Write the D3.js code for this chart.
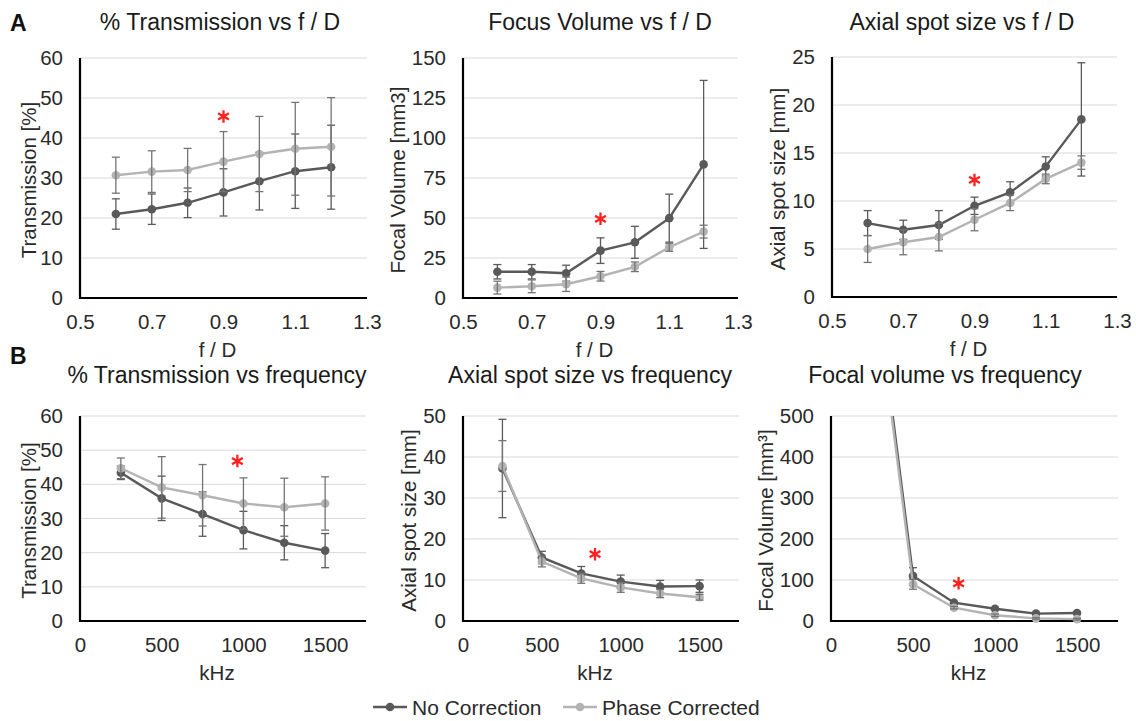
<!DOCTYPE html>
<html>
<head>
<meta charset="utf-8">
<script src="https://cdn.jsdelivr.net/npm/d3@7"></script>
<style>
  body { margin: 0; background: #fff; }
  text { font-family: "Liberation Sans", Arial, sans-serif; }
</style>
</head>
<body>
<svg id="fig" width="1136" height="721"></svg>
<script>
// x values
const fdRatio = [0.6, 0.7, 0.8, 0.9, 1.0, 1.1, 1.2];
const freqKHz = [250, 500, 750, 1000, 1250, 1500];

// A - f/D sweep (mean and error, No Correction / Phase Corrected)
const transFdNo    = [21.0, 22.2, 23.8, 26.4, 29.2, 31.7, 32.7];
const transFdNoErr = [3.8, 3.8, 3.7, 5.9, 7.2, 9.3, 10.5];
const transFdPh    = [30.7, 31.6, 32.0, 34.1, 36.0, 37.3, 37.8];
const transFdPhErr = [4.5, 5.2, 5.4, 7.5, 9.4, 11.6, 12.3];

const volFdNo    = [16.4, 16.4, 15.5, 29.6, 34.8, 49.9, 83.5];
const volFdNoErr = [4.5, 4.5, 5.0, 8.0, 10.0, 15.0, 52.5];
const volFdPh    = [6.5, 7.3, 8.6, 13.6, 19.5, 31.7, 41.5];
const volFdPhErr = [4.0, 4.0, 4.5, 3.0, 3.0, 2.5, 4.0];

const spotFdNo    = [7.7, 7.0, 7.5, 9.5, 10.9, 13.6, 18.5];
const spotFdNoErr = [1.3, 1.0, 1.5, 0.9, 1.1, 1.0, 5.9];
const spotFdPh    = [5.0, 5.7, 6.25, 8.05, 9.8, 12.3, 14.0];
const spotFdPhErr = [1.4, 1.3, 1.45, 1.15, 0.8, 0.5, 0.7];

// B - frequency sweep
const transFqNo    = [43.4, 35.9, 31.3, 26.6, 22.9, 20.6];
const transFqNoErr = [2.0, 6.5, 6.5, 5.5, 5.0, 5.0];
const transFqPh    = [44.7, 39.1, 36.8, 34.4, 33.3, 34.4];
const transFqPhErr = [3.0, 9.0, 9.0, 7.5, 8.5, 7.8];

const spotFqNo    = [37.2, 15.5, 11.6, 9.6, 8.4, 8.5];
const spotFqNoErr = [12.0, 1.5, 1.7, 1.6, 1.5, 1.5];
const spotFqPh    = [37.8, 14.5, 10.4, 8.2, 6.7, 5.8];
const spotFqPhErr = [6.2, 1.3, 1.2, 1.2, 1.0, 0.7];

const volFqNo    = [900, 110, 44.7, 30, 18, 19.5];
const volFqNoErr = [150, 20, 3, 3, 3, 3];
const volFqPh    = [880, 89.5, 32.5, 14, 6.5, 4.5];
const volFqPhErr = [150, 12, 3, 3, 2, 2];

// significance markers (x, y in data units)
const sigMarks = [[0.9, 45.4], [0.9, 49.5], [0.9, 12.2], [963, 46.8], [837, 16.3], [778, 92]];

// axis ticks
const fdTicks = [0.5, 0.7, 0.9, 1.1, 1.3];
const fqTicks = [0, 500, 1000, 1500];

const seriesNames = ["No Correction", "Phase Corrected"];
const colors = ["#595959", "#b3b3b3"];
const errColors = ["#5a5a5a", "#747474"];

const panels = [
  { title: "% Transmission vs f / D", ylab: "Transmission [%]", xlab: "f / D",
    xs: fdRatio, xDomain: [0.5, 1.3], xTicks: fdTicks, yMax: 60, yStep: 10,
    no: transFdNo, noErr: transFdNoErr, ph: transFdPh, phErr: transFdPhErr,
    left: 80, right: 367, top: 58, bottom: 298, titleX: 220, titleY: 30, ylabX: 28 },
  { title: "Focus Volume vs f / D", ylab: "Focal Volume [mm3]", xlab: "f / D",
    xs: fdRatio, xDomain: [0.5, 1.3], xTicks: fdTicks, yMax: 150, yStep: 25,
    no: volFdNo, noErr: volFdNoErr, ph: volFdPh, phErr: volFdPhErr,
    left: 463, right: 738, top: 58, bottom: 298, titleX: 600, titleY: 30, ylabX: 397 },
  { title: "Axial spot size vs f / D", ylab: "Axial spot size [mm]", xlab: "f / D",
    xs: fdRatio, xDomain: [0.5, 1.3], xTicks: fdTicks, yMax: 25, yStep: 5,
    no: spotFdNo, noErr: spotFdNoErr, ph: spotFdPh, phErr: spotFdPhErr,
    left: 832, right: 1117, top: 57, bottom: 297, titleX: 962, titleY: 30, ylabX: 777 },
  { title: "% Transmission vs frequency", ylab: "Transmission [%]", xlab: "kHz",
    xs: freqKHz, xDomain: [0, 1750], xTicks: fqTicks, yMax: 60, yStep: 10,
    no: transFqNo, noErr: transFqNoErr, ph: transFqPh, phErr: transFqPhErr,
    left: 80, right: 366, top: 416, bottom: 621, titleX: 217, titleY: 383, ylabX: 28 },
  { title: "Axial spot size vs frequency", ylab: "Axial spot size [mm]", xlab: "kHz",
    xs: freqKHz, xDomain: [0, 1750], xTicks: fqTicks, yMax: 50, yStep: 10,
    no: spotFqNo, noErr: spotFqNoErr, ph: spotFqPh, phErr: spotFqPhErr,
    left: 463, right: 739, top: 416, bottom: 621, titleX: 590, titleY: 383, ylabX: 408 },
  { title: "Focal volume vs frequency", ylab: "Focal Volume [mm\u00b3]", xlab: "kHz",
    xs: freqKHz, xDomain: [0, 1750], xTicks: fqTicks, yMax: 500, yStep: 100,
    no: volFqNo, noErr: volFqNoErr, ph: volFqPh, phErr: volFqPhErr,
    left: 831, right: 1118, top: 416, bottom: 621, titleX: 945, titleY: 383, ylabX: 765 }
];

const svg = d3.select("#fig");

panels.forEach((p, i) => {
  const g = svg.append("g");
  const x = d3.scaleLinear().domain(p.xDomain).range([p.left, p.right]);
  const y = d3.scaleLinear().domain([0, p.yMax]).range([p.bottom, p.top]);
  const yTicks = d3.range(0, p.yMax + p.yStep / 2, p.yStep);

  // title
  g.append("text")
    .attr("x", p.titleX).attr("y", p.titleY)
    .attr("text-anchor", "middle")
    .attr("font-size", 23).attr("fill", "#1a1a1a")
    .text(p.title);

  // gridlines
  g.selectAll(".grid").data(yTicks.filter(t => t > 0)).join("line")
    .attr("x1", p.left).attr("x2", p.right)
    .attr("y1", d => y(d)).attr("y2", d => y(d))
    .attr("stroke", "#d9d9d9").attr("stroke-width", 1);

  // y axis tick labels
  const ya = g.append("g").attr("transform", `translate(${p.left},0)`)
    .call(d3.axisLeft(y).tickValues(yTicks).tickSize(0).tickPadding(17));
  ya.select(".domain").remove();
  ya.selectAll("text").attr("font-size", 20.5).attr("fill", "#2a2a2a")
    .style("font-family", '"Liberation Sans", Arial, sans-serif');

  // x axis tick labels
  const fmt = p.xDomain[1] < 10 ? d3.format(".1f") : d3.format("d");
  const xa = g.append("g").attr("transform", `translate(0,${p.bottom})`)
    .call(d3.axisBottom(x).tickValues(p.xTicks).tickSize(0).tickPadding(16).tickFormat(fmt));
  xa.select(".domain").remove();
  xa.selectAll("text").attr("font-size", 20.5).attr("fill", "#2a2a2a")
    .style("font-family", '"Liberation Sans", Arial, sans-serif');

  // axis lines
  g.append("line").attr("x1", p.left).attr("x2", p.left)
    .attr("y1", p.top).attr("y2", p.bottom + 1)
    .attr("stroke", "#000").attr("stroke-width", 2.2);
  g.append("line").attr("x1", p.left - 1).attr("x2", p.right)
    .attr("y1", p.bottom).attr("y2", p.bottom)
    .attr("stroke", "#000").attr("stroke-width", 2.2);

  // axis titles
  g.append("text")
    .attr("x", (p.left + p.right) / 2 - 6).attr("y", p.bottom + 59)
    .attr("text-anchor", "middle").attr("font-size", 20.5).attr("fill", "#2a2a2a")
    .text(p.xlab);
  g.append("text")
    .attr("transform", `translate(${p.ylabX},${(p.top + p.bottom) / 2 + 2}) rotate(-90)`)
    .attr("text-anchor", "middle").attr("dominant-baseline", "central")
    .attr("font-size", 20.5).attr("fill", "#2a2a2a")
    .text(p.ylab);

  // clip at plot top
  const clipId = "clip" + i;
  svg.append("clipPath").attr("id", clipId)
    .append("rect").attr("x", p.left - 10).attr("y", p.top)
    .attr("width", p.right - p.left + 20).attr("height", p.bottom - p.top + 12);

  const plot = g.append("g").attr("clip-path", `url(#${clipId})`);
  const series = [
    p.xs.map((xv, k) => ({ x: xv, v: p.no[k], e: p.noErr[k] })),
    p.xs.map((xv, k) => ({ x: xv, v: p.ph[k], e: p.phErr[k] }))
  ];
  const line = d3.line().x(d => x(d.x)).y(d => y(d.v));

  series.forEach((s, si) => {
    const sg = plot.append("g");
    sg.append("path").datum(s).attr("d", line)
      .attr("fill", "none").attr("stroke", colors[si]).attr("stroke-width", 2.4);
    sg.selectAll("circle").data(s).join("circle")
      .attr("cx", d => x(d.x)).attr("cy", d => y(d.v)).attr("r", 4.3)
      .attr("fill", colors[si]);
    const eb = sg.selectAll(".eb").data(s).join("g");
    eb.append("line")
      .attr("x1", d => x(d.x)).attr("x2", d => x(d.x))
      .attr("y1", d => y(d.v - d.e)).attr("y2", d => y(d.v + d.e));
    eb.append("line")
      .attr("x1", d => x(d.x) - 4).attr("x2", d => x(d.x) + 4)
      .attr("y1", d => y(d.v + d.e)).attr("y2", d => y(d.v + d.e));
    eb.append("line")
      .attr("x1", d => x(d.x) - 4).attr("x2", d => x(d.x) + 4)
      .attr("y1", d => y(d.v - d.e)).attr("y2", d => y(d.v - d.e));
    eb.selectAll("line").attr("stroke", errColors[si]).attr("stroke-width", 1.3);
  });

  // significance asterisk
  g.append("path")
    .attr("transform", `translate(${x(sigMarks[i][0])},${y(sigMarks[i][1])})`)
    .attr("d", d3.symbol(d3.symbolAsterisk, 110)())
    .attr("fill", "none").attr("stroke", "#ff2020").attr("stroke-width", 2.3);
});

// panel letters
svg.append("text").attr("x", 10).attr("y", 31)
  .attr("font-size", 23).attr("font-weight", "bold").attr("fill", "#111").text("A");
svg.append("text").attr("x", 10).attr("y", 364)
  .attr("font-size", 23).attr("font-weight", "bold").attr("fill", "#111").text("B");

// legend
const legend = svg.append("g").attr("transform", "translate(373,707)");
const legX = [0, 190];
seriesNames.forEach((name, si) => {
  const lg = legend.append("g").attr("transform", `translate(${legX[si]},0)`);
  lg.append("line").attr("x1", 0).attr("x2", 34).attr("y1", 0).attr("y2", 0)
    .attr("stroke", colors[si]).attr("stroke-width", 2.4);
  lg.append("circle").attr("cx", 17).attr("cy", 0).attr("r", 4.3).attr("fill", colors[si]);
  lg.append("text").attr("x", 39).attr("y", 0).attr("dominant-baseline", "central")
    .attr("font-size", 21).attr("fill", "#2a2a2a").text(name);
});
</script>
</body>
</html>
